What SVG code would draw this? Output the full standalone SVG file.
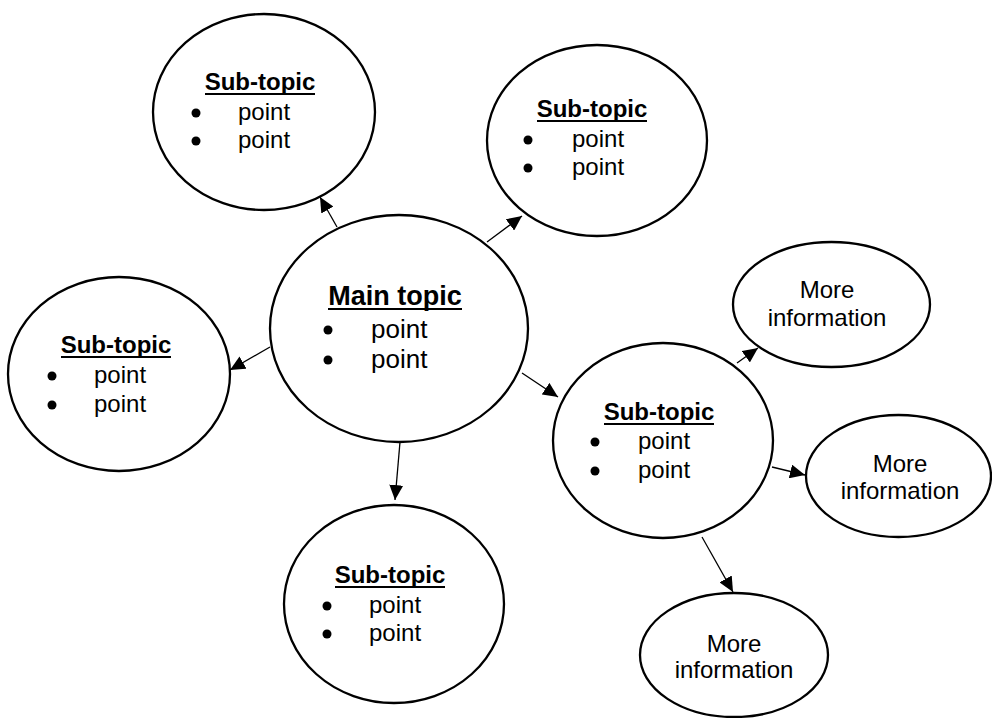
<svg xmlns="http://www.w3.org/2000/svg" width="992" height="718" viewBox="0 0 992 718">
<defs>
<marker id="arr" markerUnits="userSpaceOnUse" markerWidth="16" markerHeight="14" viewBox="0 0 16 14" refX="15" refY="7" orient="auto">
<path d="M0,0 L15,7 L0,14 Z" fill="#000"/>
</marker>
</defs>
<style>
.n{fill:#fff;stroke:#000;stroke-width:2.3}
.t{font-family:"Liberation Sans",Arial,sans-serif;font-weight:bold;font-size:24px;text-anchor:middle;fill:#000}
.p{font-family:"Liberation Sans",Arial,sans-serif;font-size:24px;fill:#000}
.m{font-family:"Liberation Sans",Arial,sans-serif;font-size:24px;text-anchor:middle;fill:#000}
.u{stroke:#000;stroke-width:2}
.c line{stroke:#000;stroke-width:1.3;marker-end:url(#arr)}
</style>
<rect width="992" height="718" fill="#fff"/>
<g class="c" id="connectors">
<line x1="337" y1="227" x2="320" y2="197"/>
<line x1="487" y1="242" x2="522" y2="216"/>
<line x1="270" y1="347" x2="230" y2="370"/>
<line x1="522" y1="373" x2="558" y2="397"/>
<line x1="400" y1="442" x2="395" y2="500"/>
<line x1="737" y1="363" x2="758" y2="348"/>
<line x1="772" y1="467" x2="805" y2="475"/>
<line x1="702" y1="537" x2="733" y2="592"/>
</g>
<g id="main">
<ellipse class="n" cx="399" cy="328.5" rx="129" ry="113.5"/>
<text class="t" x="395" y="305" style="font-size:27px">Main topic</text>
<line class="u" x1="328" y1="309" x2="462" y2="309"/>
<circle cx="328" cy="330" r="4.5"/><text class="p" x="371" y="338" style="font-size:26px">point</text>
<circle cx="328" cy="360" r="4.5"/><text class="p" x="371" y="368" style="font-size:26px">point</text>
</g>
<g id="sub-topleft">
<ellipse class="n" cx="264" cy="112" rx="111" ry="98"/>
<text class="t" x="260" y="90">Sub-topic</text>
<line class="u" x1="205" y1="94" x2="315" y2="94"/>
<circle cx="196" cy="113" r="4.5"/><text class="p" x="238" y="120">point</text>
<circle cx="196" cy="141" r="4.5"/><text class="p" x="238" y="148">point</text>
</g>
<g id="sub-topright">
<ellipse class="n" cx="597" cy="140.5" rx="110" ry="95.5"/>
<text class="t" x="592" y="117">Sub-topic</text>
<line class="u" x1="537" y1="121" x2="647" y2="121"/>
<circle cx="528" cy="140" r="4.5"/><text class="p" x="572" y="147">point</text>
<circle cx="528" cy="168" r="4.5"/><text class="p" x="572" y="175">point</text>
</g>
<g id="sub-left">
<ellipse class="n" cx="119" cy="374" rx="111" ry="97"/>
<text class="t" x="116" y="353">Sub-topic</text>
<line class="u" x1="61" y1="357" x2="171" y2="357"/>
<circle cx="52" cy="376" r="4.5"/><text class="p" x="94" y="383">point</text>
<circle cx="52" cy="405" r="4.5"/><text class="p" x="94" y="412">point</text>
</g>
<g id="sub-bottom">
<ellipse class="n" cx="394" cy="604" rx="110" ry="99"/>
<text class="t" x="390" y="583">Sub-topic</text>
<line class="u" x1="335" y1="587" x2="445" y2="587"/>
<circle cx="327" cy="606" r="4.5"/><text class="p" x="369" y="613">point</text>
<circle cx="327" cy="634" r="4.5"/><text class="p" x="369" y="641">point</text>
</g>
<g id="sub-right">
<ellipse class="n" cx="663" cy="440.5" rx="110" ry="97.5"/>
<text class="t" x="659" y="420">Sub-topic</text>
<line class="u" x1="604" y1="424" x2="714" y2="424"/>
<circle cx="595" cy="442" r="4.5"/><text class="p" x="638" y="449">point</text>
<circle cx="595" cy="471" r="4.5"/><text class="p" x="638" y="478">point</text>
</g>
<g id="more1">
<ellipse class="n" cx="831.5" cy="304.5" rx="98.5" ry="62.5"/>
<text class="m" x="827" y="298">More</text>
<text class="m" x="827" y="326">information</text>
</g>
<g id="more2">
<ellipse class="n" cx="898.5" cy="476" rx="92.5" ry="61"/>
<text class="m" x="900" y="472">More</text>
<text class="m" x="900" y="499">information</text>
</g>
<g id="more3">
<ellipse class="n" cx="734" cy="655" rx="94" ry="62"/>
<text class="m" x="734" y="652">More</text>
<text class="m" x="734" y="678">information</text>
</g>
</svg>
